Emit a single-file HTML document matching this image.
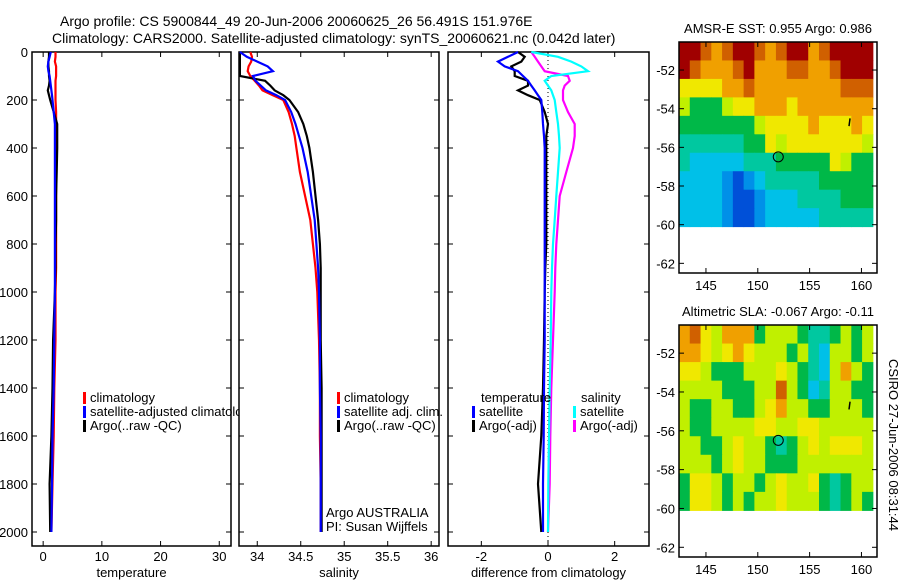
<!DOCTYPE html>
<html><head><meta charset="utf-8"><style>
body{margin:0;background:#fff;}
svg{display:block;font-family:"Liberation Sans",sans-serif;}
</style></head><body>
<svg id="c" width="900" height="580">
<text x="60" y="26" font-size="14">Argo profile: CS 5900844_49 20-Jun-2006 20060625_26 56.491S 151.976E</text>
<text x="52" y="43" font-size="14">Climatology: CARS2000. Satellite-adjusted climatology: synTS_20060621.nc (0.042d later)</text>
</svg>
<script>
const depths=[0,20,40,60,80,100,120,140,160,180,200,250,300,350,400,500,600,700,800,900,1000,1200,1400,1600,1800,2000];
const tClim=[2.1,2.1,2.0,2.2,2.2,2.2,2.1,2.1,2.1,2.1,2.1,2.2,2.2,2.2,2.2,2.2,2.2,2.2,2.2,2.2,2.1,2.1,1.9,1.8,1.6,1.4];
const tSat=[1.3,1.1,0.9,0.8,0.9,1.1,1.2,1.3,1.4,1.5,1.6,1.8,2.0,2.0,2.0,2.0,2.0,2.0,2.0,2.0,2.0,1.9,1.8,1.6,1.5,1.4];
const tArgo=[1.0,1.0,0.9,0.9,1.0,1.0,1.1,1.0,0.8,1.0,1.2,1.8,2.4,2.4,2.4,2.3,2.2,2.2,2.1,2.1,2.0,1.7,1.6,1.4,1.1,1.2];
const sClim=[33.92,33.94,33.93,33.9,33.89,33.92,33.97,34.02,34.06,34.18,34.3,34.36,34.4,34.43,34.45,34.49,34.55,34.61,34.64,34.67,34.69,34.71,34.72,34.72,34.73,34.73];
const sSat=[33.8,33.88,34.0,34.12,34.18,33.95,33.98,34.04,34.1,34.22,34.32,34.39,34.44,34.48,34.52,34.58,34.62,34.66,34.68,34.7,34.71,34.72,34.72,34.73,34.73,34.73];
const sArgo=[33.8,33.8,33.8,33.8,33.8,33.8,34.09,34.15,34.2,34.3,34.37,34.47,34.53,34.57,34.6,34.64,34.67,34.7,34.72,34.73,34.73,34.73,34.74,34.74,34.74,34.74];
const dTSat=[-0.9,-1.2,-1.5,-1.3,-0.9,-0.75,-0.6,-0.5,-0.4,-0.3,-0.2,-0.17,-0.15,-0.12,-0.1,-0.1,-0.1,-0.1,-0.1,-0.1,-0.1,-0.1,-0.12,-0.13,-0.15,-0.15];
const dTArgo=[-0.9,-0.7,-0.8,-1.1,-1.0,-1.0,-0.6,-0.6,-0.9,-0.6,-0.25,-0.1,0.0,-0.05,-0.05,-0.05,-0.05,-0.05,-0.05,-0.08,-0.1,-0.12,-0.15,-0.2,-0.3,-0.2];
const dSSat=[-0.5,0.3,0.7,1.0,1.2,0.1,-0.1,0.0,0.1,0.15,0.2,0.25,0.3,0.33,0.35,0.3,0.25,0.2,0.15,0.12,0.1,0.08,0.05,0.03,0.01,0.0];
const dSArgo=[-0.5,-0.4,-0.3,-0.2,-0.1,0.6,0.65,0.5,0.45,0.45,0.45,0.6,0.8,0.8,0.75,0.55,0.35,0.3,0.25,0.22,0.2,0.15,0.1,0.07,0.05,0.0];
const depthTicks=[0,200,400,600,800,1000,1200,1400,1600,1800,2000];
const tTicks=[0,10,20,30];
const sTicks=[34,34.5,35,35.5,36];
const sTickLabels=["34","34.5","35","35.5","36"];
const dTicks=[-2,0,2];
const lonTicks=[145,150,155,160];
const latTicks=[-52,-54,-56,-58,-60,-62];
const sstGrid=[
[10,10,9,8,9,10,10,9,8,9,10,10,8,9,10,10,10,10],
[10,9,8,8,8,9,10,8,8,8,9,9,8,8,9,10,10,10],
[7,7,7,7,8,8,9,8,8,8,8,8,8,8,8,9,9,9],
[6,5,5,5,6,7,7,8,8,8,7,8,8,8,8,8,8,8],
[5,5,5,5,5,5,5,6,7,7,7,7,8,7,7,7,8,7],
[4,4,4,4,4,4,5,5,7,6,7,7,7,7,7,7,7,6],
[4,3,3,3,3,3,4,4,4,5,5,5,5,5,7,6,5,5],
[3,3,3,3,2,1,2,3,4,4,4,4,4,5,5,5,5,5],
[3,3,3,3,2,1,1,2,3,3,3,4,4,4,4,5,5,5],
[3,3,3,3,2,1,1,2,3,3,3,3,3,4,4,4,4,4]];
const slaGrid=[
[8,9,7,6,8,8,8,5,6,6,6,5,4,4,5,6,5,6],
[8,8,7,6,7,8,7,6,6,6,5,6,4,3,6,6,5,6],
[7,7,6,5,5,5,6,6,6,7,6,5,4,3,6,8,6,5],
[6,6,6,6,5,5,5,6,6,9,6,5,3,4,6,6,5,5],
[6,5,5,6,6,5,5,6,7,8,6,6,5,5,6,6,6,5],
[6,5,5,6,6,6,6,7,7,6,6,7,7,6,6,6,6,6],
[6,6,5,5,6,7,6,6,5,4,5,6,7,6,7,7,7,6],
[6,6,6,5,6,7,6,6,5,5,5,6,6,6,6,6,6,6],
[5,7,7,6,5,6,6,5,6,7,6,6,7,5,4,5,6,6],
[5,7,7,6,5,6,5,6,6,7,6,6,6,5,4,5,6,5]];
const floatLon=151.976, floatLat=-56.491;

const NS="http://www.w3.org/2000/svg";
const svg=document.getElementById('c');
const FS=13;
function mk(tag,attrs,parent){const e=document.createElementNS(NS,tag);for(const k in attrs)e.setAttribute(k,attrs[k]);(parent||svg).appendChild(e);return e;}
function txt(x,y,s,size,anchor,parent){const t=mk('text',{x:x,y:y,'font-size':size||FS,'text-anchor':anchor||'start'},parent);t.textContent=s;return t;}
const Y0=52,Y1=546;
const ys=d=>Y0+d*0.24;
function panel(name,x0,x1,vmin,vmax,ticks,labels,xtitle,leftLabels){
  const g=mk('g',{});
  
  
  mk('rect',{x:x0,y:Y0,width:x1-x0,height:Y1-Y0,fill:'#fff',stroke:'#000','stroke-width':1.5},g);
  const xs=v=>x0+(v-vmin)/(vmax-vmin)*(x1-x0);
  ticks.forEach((t,i)=>{const x=xs(t);mk('line',{x1:x,x2:x,y1:Y1,y2:Y1-5,stroke:'#000'},g);mk('line',{x1:x,x2:x,y1:Y0,y2:Y0+5,stroke:'#000'},g);
    const l=txt(x,561,labels[i],FS,'middle',g);});
  depthTicks.forEach(d=>{const y=ys(d);mk('line',{x1:x0,x2:x0+5,y1:y,y2:y,stroke:'#000'},g);mk('line',{x1:x1,x2:x1-5,y1:y,y2:y,stroke:'#000'},g);
    if(leftLabels){const l=txt(x0-4,y+5,String(d),FS,'end',g);}});
  const xt=txt((x0+x1)/2,577,xtitle,FS,'middle',g);
  
  return {g,xs};
}
function line(p,vals,color,name){
  const pts=depths.map((d,i)=>p.xs(vals[i]).toFixed(1)+','+ys(d).toFixed(1)).join(' ');
  const l=mk('polyline',{points:pts,fill:'none',stroke:color,'stroke-width':2.2},p.g);
  
  
}
function legend(g,x,y,color,label){
  mk('rect',{x:x,y:y-10,width:3,height:12,fill:color},g);
  const t=txt(x+7,y,label,FS,'start',g);
  
  
}
const p1=panel('temperature-panel',32,231,-1.9,32,tTicks,tTicks.map(String),'temperature',true);
line(p1,tClim,'#f00','temp-climatology-line');line(p1,tArgo,'#000','temp-argo-line');line(p1,tSat,'#00f','temp-satellite-line');
legend(p1.g,83,402,'#f00','climatology');legend(p1.g,83,416,'#00f','satellite-adjusted climatology');legend(p1.g,83,430,'#000','Argo(..raw -QC)');
const p2=panel('salinity-panel',239,439,33.79,36.09,sTicks,sTickLabels,'salinity',false);
line(p2,sClim,'#f00','sal-climatology-line');line(p2,sArgo,'#000','sal-argo-line');line(p2,sSat,'#00f','sal-satellite-line');
legend(p2.g,337,402,'#f00','climatology');legend(p2.g,337,416,'#00f','satellite adj. clim.');legend(p2.g,337,430,'#000','Argo(..raw -QC)');
txt(326,517,'Argo AUSTRALIA',FS,'start',p2.g);
txt(326,531,'PI: Susan Wijffels',FS,'start',p2.g);
const p3=panel('difference-panel',448,649,-3.0,3.03,dTicks,dTicks.map(String),'difference from climatology',false);
mk('line',{x1:p3.xs(0),x2:p3.xs(0),y1:Y0,y2:Y1,stroke:'#000','stroke-dasharray':'1,3'},p3.g);
line(p3,dTArgo,'#000','dtemp-argo-line');line(p3,dTSat,'#00f','dtemp-satellite-line');line(p3,dSArgo,'#f0f','dsal-argo-line');line(p3,dSSat,'#0ff','dsal-satellite-line');
txt(481,402,'temperature',FS,'start',p3.g);
legend(p3.g,472,416,'#00f','satellite');legend(p3.g,472,430,'#000','Argo(-adj)');
txt(581,402,'salinity',FS,'start',p3.g);
legend(p3.g,573,416,'#0ff','satellite');legend(p3.g,573,430,'#f0f','Argo(-adj)');
const cmapStops=['#0030b0','#0050d8','#0090e8','#00c0e8','#00c8a0','#00b848','#c0f000','#f0e800','#f0a000','#d06000','#a00000'];
function map(name,top,bottom,grid,title){
  const g=mk('g',{});
  
  
  const x0=679,x1=877,lonMin=142.4,lonMax=161.5,latTop=-50.55,latBot=-62.5;
  const xs=v=>x0+(v-lonMin)/(lonMax-lonMin)*(x1-x0);
  const yl=v=>top+(latTop-v)/(latTop-latBot)*(bottom-top);
  const rows=grid.length,cols=grid[0].length,dataBot=-60.1;
  const dLat=(latTop-dataBot)/rows,dLon=(161.1-lonMin)/cols;
  grid.forEach((r,i)=>r.forEach((v,j)=>{
    const xa=xs(lonMin+j*dLon),xb=xs(lonMin+(j+1)*dLon),ya=yl(latTop-i*dLat),yb=yl(latTop-(i+1)*dLat);
    const c=mk('rect',{x:xa,y:ya,width:xb-xa+0.5,height:yb-ya+0.5,fill:cmapStops[v]},g);
    
    
  }));
  mk('rect',{x:x0,y:top,width:x1-x0,height:bottom-top,fill:'none',stroke:'#000','stroke-width':1.5},g);
  lonTicks.forEach(l=>{const x=xs(l);mk('line',{x1:x,x2:x,y1:bottom,y2:bottom-5,stroke:'#000'},g);mk('line',{x1:x,x2:x,y1:top,y2:top+5,stroke:'#000'},g);txt(x,bottom+17,String(l),FS,'middle',g);});
  latTicks.forEach(l=>{const y=yl(l);mk('line',{x1:x0,x2:x0+5,y1:y,y2:y,stroke:'#000'},g);mk('line',{x1:x1,x2:x1-5,y1:y,y2:y,stroke:'#000'},g);txt(x0-4,y+5,String(l),FS,'end',g);});
  const m=mk('circle',{cx:xs(floatLon),cy:yl(floatLat),r:5,fill:'none',stroke:'#000'},g);
  
  mk('line',{x1:xs(158.8),x2:xs(158.9),y1:yl(-54.9),y2:yl(-54.5),stroke:'#000','stroke-width':1.5},g);
  const t=txt(778,top-9,title,FS,'middle',g);
  
}
map('sst-map',42,273,sstGrid,'AMSR-E SST: 0.955 Argo: 0.986');
map('sla-map',325,557,slaGrid,'Altimetric SLA: -0.067 Argo: -0.11');
const ts=mk('text',{x:0,y:0,'font-size':FS,'text-anchor':'middle',transform:'translate(889,445) rotate(90)'});
ts.textContent='CSIRO 27-Jun-2006 08:31:44';


</script>
</body></html>
